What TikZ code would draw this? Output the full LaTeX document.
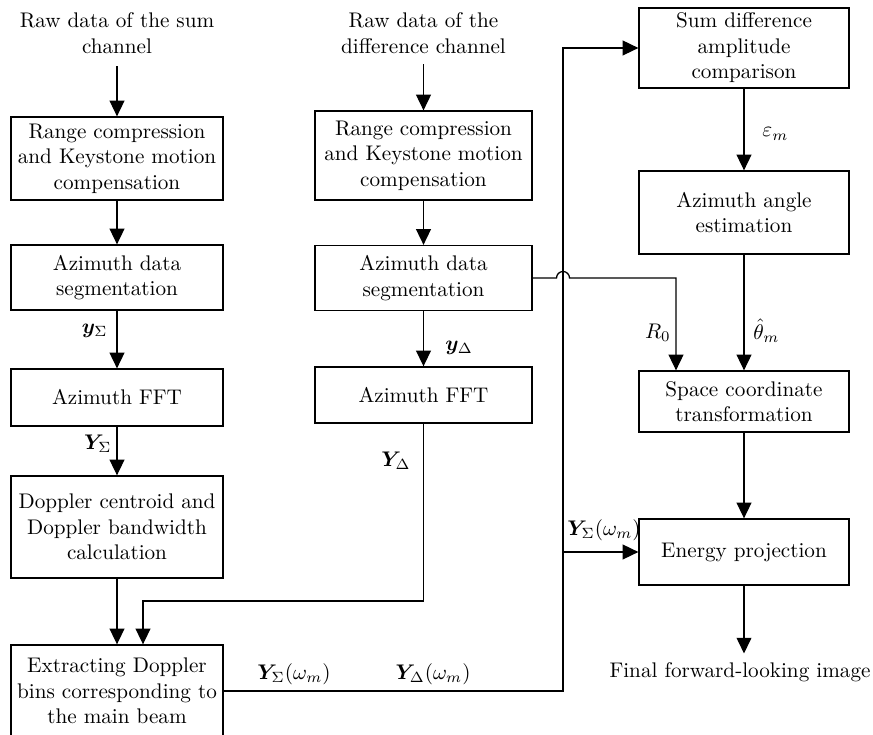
\documentclass[tikz,border=0pt]{standalone}
\usepackage{amsmath,bm}
\usetikzlibrary{arrows.meta}

\begin{document}
\begin{tikzpicture}[x=0.4724pt,y=-0.4724pt,
  box/.style={draw, line width=0.6pt, align=center, inner sep=2pt},
  colL/.style={box, minimum width=100.2pt},
  colM/.style={box, minimum width=102.5pt},
  colR/.style={box, minimum width=99.2pt},
  txt/.style={align=center, inner sep=2pt},
  lbl/.style={inner sep=0pt},
  link/.style={line width=0.6pt},
  arr/.style={link, -{Triangle[width=7pt,length=7.4pt]}}]
\useasboundingbox (0,0) rectangle (873,735);

% sum channel
\node[txt] (rawL) at (117,33) {Raw data of the sum\\channel};
\node[colL, minimum height=39.2pt] (L1) at (117,158.5) {Range compression\\and Keystone motion\\compensation};
\node[colL, minimum height=30.7pt] (L2) at (117,277.5) {Azimuth data\\segmentation};
\node[colL, minimum height=26.9pt] (L3) at (117,397.5) {Azimuth FFT};
\node[colL, minimum height=48.2pt] (L4) at (117,527) {Doppler centroid and\\Doppler bandwidth\\calculation};
\node[colL, minimum height=43.5pt] (L5) at (117,691) {Extracting Doppler\\bins corresponding to\\the main beam};

% difference channel
\node[txt] (rawM) at (423.5,33) {Raw data of the\\difference channel};
\node[colM, minimum height=42.0pt] (M1) at (423.5,155.5) {Range compression\\and Keystone motion\\compensation};
\node[colM, minimum height=30.7pt] (M2) at (423.5,278) {Azimuth data\\segmentation};
\node[colM, minimum height=26.5pt] (M3) at (423.5,395) {Azimuth FFT};

% angle estimation and imaging
\node[colR, minimum height=37.8pt] (R1) at (744,48) {Sum difference\\amplitude\\comparison};
\node[colR, minimum height=39.2pt] (R2) at (744,212.5) {Azimuth angle\\estimation};
\node[colR, minimum height=28.8pt] (R3) at (744,401.5) {Space coordinate\\transformation};
\node[colR, minimum height=31.2pt] (R4) at (744,552) {Energy projection};
\node[txt] (out) at (740,672) {Final forward-looking image};

% routing points
\coordinate (bendD) at (143,601);
\coordinate (busB) at (563,691);
\coordinate (busT) at (563,48);
\coordinate (busE) at (563,552);
\coordinate (hopL) at (556.5,278);
\coordinate (rngC) at (676,278);

% sum channel flow
\draw[arr, shorten <=4pt] (rawL.south) -- (L1.north);
\draw[arr] (L1) -- (L2);
\draw[arr] (L2) -- (L3);
\draw[arr] (L3) -- (L4);
\draw[arr] (L4) -- (L5);

% difference channel flow
\draw[arr, shorten <=3pt] (rawM.south) -- (M1.north);
\draw[arr] (M1) -- (M2);
\draw[arr] (M2) -- (M3);
\draw[arr] (M3.south) |- (bendD) -- (bendD |- L5.north);

% extracted bins to comparison and projection
\draw[arr] (L5.east) -- (busB) -- (busT) -- (R1.west);
\draw[arr] (busE) -- (R4.west);

% right column flow
\draw[arr] (R1) -- (R2);
\draw[arr] (R2) -- (R3);
\draw[arr] (R3) -- (R4);
\draw[arr, shorten >=2pt] (R4.south) -- (R4.south |- out.north);

% range from segmentation, hopping over the bus line
\draw[arr] (M2.east) -- (hopL) arc[start angle=180, end angle=0, radius=3.07pt] -- (rngC) -- (rngC |- R3.north);

% signal labels
\node[lbl, anchor=east] (lyS) at (108,331) {$\bm{y}_{\Sigma}$};
\node[lbl, anchor=east] (lYS) at (112,444) {$\bm{Y}_{\Sigma}$};
\node[lbl, anchor=west] (lyD) at (445,348) {$\bm{y}_{\Delta}$};
\node[lbl, anchor=east] (lYD) at (411,461) {$\bm{Y}_{\Delta}$};
\node[lbl] (lYSw) at (294,674) {$\bm{Y}_{\Sigma}(\omega_m)$};
\node[lbl] (lYDw) at (433,674) {$\bm{Y}_{\Delta}(\omega_m)$};
\node[lbl] (lYSe) at (604,530) {$\bm{Y}_{\Sigma}(\omega_m)$};
\node[lbl, anchor=west] (leps) at (762,134) {$\varepsilon_m$};
\node[lbl, anchor=east] (lR0) at (671,333) {$R_0$};
\node[lbl, anchor=west] (lth) at (753,331) {$\hat{\theta}_m$};
\end{tikzpicture}
\end{document}
